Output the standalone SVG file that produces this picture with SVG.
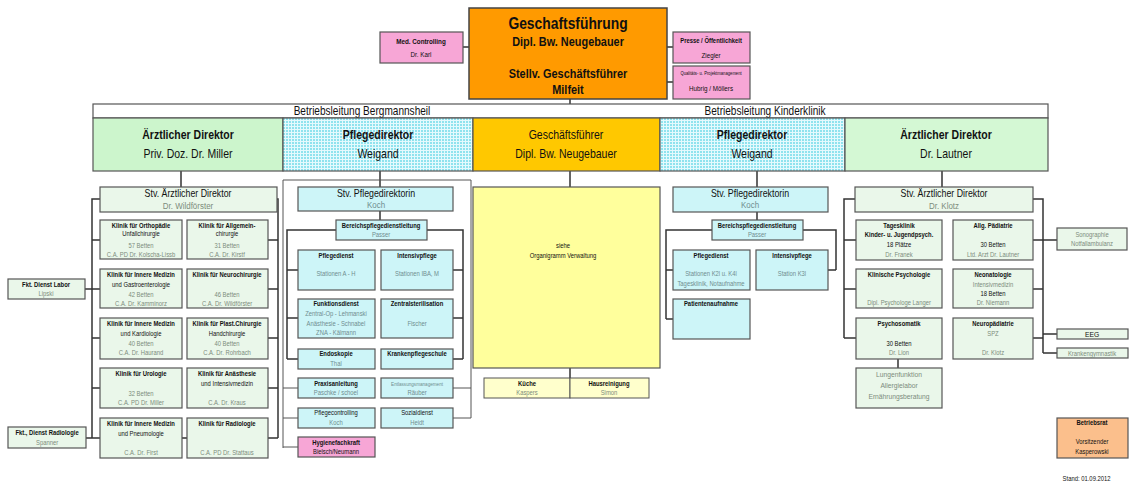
<svg xmlns="http://www.w3.org/2000/svg" width="1131" height="487" viewBox="0 0 1131 487">
<defs>
<pattern id="chk" width="3" height="3" patternUnits="userSpaceOnUse"><rect width="3" height="3" fill="#8fe3ee"/><path d="M0 0.5H3M0.5 0V3" stroke="#e4fafd" stroke-width="1"/></pattern>
<style>
text{font-family:"Liberation Sans Narrow","Liberation Sans",Arial,sans-serif;text-anchor:middle;fill:#111;transform-box:fill-box;transform-origin:center;transform:scaleX(.84)}
.b{font-weight:bold}
.s{font-size:7px}
.gy{fill:#7c8c7c}
.gc{fill:#6f8d8f}
.bx{stroke:#555;stroke-width:1.2}
.gr{fill:#eaf7ea}
.cy{fill:#cdf5f8}
.pk{fill:#f7a6d6}
.ln{stroke:#333;stroke-width:1.5;fill:none}
.th{stroke:#555;stroke-width:1;fill:none}
</style>
</defs>
<rect width="1131" height="487" fill="#fff"/>

<g id="connectors">
<path class="ln" d="M463 47H469M667 47H673M667 82H673M570 99V118"/>
<path class="ln" d="M181 171V187M380 171V187M570 171V187M757 171V187M942 171V187"/>
<path class="ln" d="M100 199H92V438M277 199H278V438M92 240H100M92 289H100M92 338H100M92 388H100M92 438H100M268 240H278M268 289H278M268 338H278M268 388H278M268 438H278M182 438H187M85 289H92M86 438H92"/>
<path class="th" d="M283 448V180H471V418"/>
<path class="ln" d="M380 211V220M336 230H287V359M427 230H463V359M287 270H298M287 318H298M287 359H298M453 270H463M453 318H463M453 359H463"/>
<path class="th" d="M283 388H298M283 418H298M283 447H298M453 388H471M453 418H471"/>
<path class="ln" d="M570 368V398"/>
<path class="ln" d="M757 212V220M712 230H666V319M803 230H836V270M666 270H673M666 319H673M828 270H836"/>
<path class="ln" d="M855 199H844V338M1033 199H1043V353M844 240H856M844 289H856M844 338H856M1033 240H1057M1033 289H1043M1033 338H1043M1043 334H1057M1043 353H1057M898 359V368"/>
</g>

<g id="geschaeftsfuehrung">
<rect x="469" y="8" width="198" height="91" fill="#ff9a00" stroke="#444" stroke-width="1.5"/>
<text x="568" y="29" class="b" font-size="16.5" fill="#2a1a00">Geschaftsführung</text>
<text x="568" y="46" class="b" font-size="13" fill="#2a1a00">Dipl. Bw. Neugebauer</text>
<text x="568" y="78" class="b" font-size="13" fill="#2a1a00">Stellv. Geschäftsführer</text>
<text x="568" y="94" class="b" font-size="13" fill="#2a1a00">Milfeit</text>
</g>
<g id="medcontrolling">
<rect x="380" y="32" width="83" height="31" class="pk bx"/>
<text x="421" y="44" class="b" font-size="7.5">Med. Controlling</text>
<text x="421" y="57" font-size="7.5" fill="#777">Dr. Karl</text>
</g>
<g id="presse">
<rect x="673" y="32" width="77" height="31" class="pk bx"/>
<text x="711" y="43" class="b" font-size="7">Presse / Öffentlichkeit</text>
<text x="711" y="58" font-size="7.5" fill="#777">Ziegler</text>
</g>
<g id="qualitaet">
<rect x="673" y="66" width="77" height="33" class="pk bx"/>
<text x="711" y="75" font-size="5">Qualitäts- u. Projektmanagement</text>
<text x="711" y="91" font-size="7.5" fill="#777">Hubrig / Möllers</text>
</g>

<g id="betriebsleitung">
<rect x="93" y="104" width="955" height="14" fill="#fff" stroke="#555" stroke-width="1.2"/>
<text x="362" y="115.5" font-size="12">Betriebsleitung Bergmannsheil</text>
<text x="765" y="115.5" font-size="12">Betriebsleitung Kinderklinik</text>
</g>
<g id="aerztl-bmh">
<rect x="93" y="118" width="190" height="53" fill="#ccf5cc" stroke="#555" stroke-width="1.2"/>
<text x="188" y="139" class="b" font-size="12.5">Ärztlicher Direktor</text>
<text x="188" y="158" font-size="12.5">Priv. Doz. Dr. Miller</text>
</g>
<g id="pflege-bmh">
<rect x="283" y="118" width="190" height="53" fill="url(#chk)" stroke="#555" stroke-width="1.2"/>
<text x="378" y="139" class="b" font-size="12.5">Pflegedirektor</text>
<text x="378" y="158" font-size="12.5">Weigand</text>
</g>
<g id="gf">
<rect x="473" y="118" width="187" height="53" fill="#ffc800" stroke="#555" stroke-width="1.2"/>
<text x="566" y="139" font-size="12.5">Geschäftsführer</text>
<text x="566" y="158" font-size="12.5">Dipl. Bw. Neugebauer</text>
</g>
<g id="pflege-kk">
<rect x="660" y="118" width="185" height="53" fill="url(#chk)" stroke="#555" stroke-width="1.2"/>
<text x="752" y="139" class="b" font-size="12.5">Pflegedirektor</text>
<text x="752" y="158" font-size="12.5">Weigand</text>
</g>
<g id="aerztl-kk">
<rect x="845" y="118" width="203" height="53" fill="#d4f8d4" stroke="#555" stroke-width="1.2"/>
<text x="946" y="139" class="b" font-size="12.5">Ärztlicher Direktor</text>
<text x="946" y="158" font-size="12.5">Dr. Lautner</text>
</g>

<g id="stv-aerztl-bmh">
<rect x="100" y="187" width="177" height="25" class="gr bx"/>
<text x="188" y="197.5" font-size="10.5">Stv. Ärztlicher Direktor</text>
<text x="188" y="209" font-size="9.5" class="gy">Dr. Wildförster</text>
</g>
<g id="k-ortho" class="s">
<rect x="100" y="220" width="82" height="39" class="gr bx"/>
<text x="141" y="228" class="b">Klinik für Orthopädie</text>
<text x="141" y="236">Unfallchirurgie</text>
<text x="141" y="248" class="gy">57 Betten</text>
<text x="141" y="257" class="gy">C.A. PD Dr. Kolscha-Lissb</text>
</g>
<g id="k-allg" class="s">
<rect x="187" y="220" width="81" height="39" class="gr bx"/>
<text x="227" y="228" class="b">Klinik für Allgemein-</text>
<text x="227" y="236">chirurgie</text>
<text x="227" y="248" class="gy">31 Betten</text>
<text x="227" y="257" class="gy">C.A. Dr. Kirstf</text>
</g>
<g id="k-gastro" class="s">
<rect x="100" y="269" width="82" height="39" class="gr bx"/>
<text x="141" y="277" class="b">Klinik für Innere Medizin</text>
<text x="141" y="287">und Gastroenterologie</text>
<text x="141" y="297" class="gy">42 Betten</text>
<text x="141" y="306" class="gy">C.A. Dr. Kamminorz</text>
</g>
<g id="k-neuro" class="s">
<rect x="187" y="269" width="81" height="39" class="gr bx"/>
<text x="227" y="277" class="b">Klinik für Neurochirurgie</text>
<text x="227" y="297" class="gy">46 Betten</text>
<text x="227" y="306" class="gy">C.A. Dr. Wildförster</text>
</g>
<g id="k-kardio" class="s">
<rect x="100" y="318" width="82" height="41" class="gr bx"/>
<text x="141" y="326" class="b">Klinik für Innere Medizin</text>
<text x="141" y="336">und Kardiologie</text>
<text x="141" y="346" class="gy">40 Betten</text>
<text x="141" y="355" class="gy">C.A. Dr. Haurand</text>
</g>
<g id="k-plast" class="s">
<rect x="187" y="318" width="81" height="41" class="gr bx"/>
<text x="227" y="326" class="b">Klinik für Plast.Chirurgie</text>
<text x="227" y="336">Handchirurgie</text>
<text x="227" y="346" class="gy">40 Betten</text>
<text x="227" y="355" class="gy">C.A. Dr. Rohrbach</text>
</g>
<g id="k-uro" class="s">
<rect x="100" y="368" width="82" height="40" class="gr bx"/>
<text x="141" y="376" class="b">Klinik für Urologie</text>
<text x="141" y="396" class="gy">32 Betten</text>
<text x="141" y="405" class="gy">C.A. PD Dr. Miller</text>
</g>
<g id="k-anaest" class="s">
<rect x="187" y="368" width="81" height="40" class="gr bx"/>
<text x="227" y="376" class="b">Klinik für Anästhesie</text>
<text x="227" y="386">und Intensivmedizin</text>
<text x="227" y="405" class="gy">C.A. Dr. Kraus</text>
</g>
<g id="k-pneumo" class="s">
<rect x="100" y="418" width="82" height="40" class="gr bx"/>
<text x="141" y="426" class="b">Klinik für Innere Medizin</text>
<text x="141" y="436">und Pneumologie</text>
<text x="141" y="455" class="gy">C.A. Dr. First</text>
</g>
<g id="k-radio" class="s">
<rect x="187" y="418" width="81" height="40" class="gr bx"/>
<text x="227" y="426" class="b">Klinik für Radiologie</text>
<text x="227" y="455" class="gy">C.A. PD Dr. Stattaus</text>
</g>
<g id="labor" class="s">
<rect x="8" y="279" width="77" height="20" class="gr bx"/>
<text x="46" y="287" class="b">Fkt. Dienst Labor</text>
<text x="46" y="296" class="gy">Lipski</text>
</g>
<g id="fkt-radio" class="s">
<rect x="8" y="427" width="78" height="21" class="gr bx"/>
<text x="47" y="435" class="b">Fkt., Dienst Radiologie</text>
<text x="47" y="445" class="gy">Spanner</text>
</g>

<g id="stv-pflege-bmh">
<rect x="298" y="187" width="155" height="24" class="cy bx"/>
<text x="376" y="197.5" font-size="10.5">Stv. Pflegedirektorin</text>
<text x="376" y="208.5" font-size="9.5" class="gc">Koch</text>
</g>
<g id="bpdl-bmh" class="s">
<rect x="336" y="220" width="91" height="20" class="cy bx"/>
<text x="381" y="228" class="b">Bereichspflegedienstleitung</text>
<text x="381" y="237" class="gc">Passer</text>
</g>
<g id="pd-bmh" class="s">
<rect x="298" y="250" width="77" height="40" class="cy bx"/>
<text x="336" y="258" class="b">Pflegedienst</text>
<text x="336" y="276" class="gc">Stationen A - H</text>
</g>
<g id="ip-bmh" class="s">
<rect x="381" y="250" width="72" height="40" class="cy bx"/>
<text x="417" y="258" class="b">Intensivpflege</text>
<text x="417" y="276" class="gc">Stationen IBA, M</text>
</g>
<g id="fd-bmh" class="s">
<rect x="298" y="299" width="77" height="39" class="cy bx"/>
<text x="336" y="306" class="b">Funktionsdienst</text>
<text x="336" y="316" class="gc">Zentral-Op - Lehmanski</text>
<text x="336" y="326" class="gc">Anästhesie - Schnabel</text>
<text x="336" y="335" class="gc">ZNA - Kälmann</text>
</g>
<g id="zs-bmh" class="s">
<rect x="381" y="299" width="72" height="39" class="cy bx"/>
<text x="417" y="306" class="b">Zentralsterilisation</text>
<text x="417" y="326" class="gc">Fischer</text>
</g>
<g id="endo" class="s">
<rect x="298" y="349" width="77" height="20" class="cy bx"/>
<text x="336" y="356" class="b">Endoskopie</text>
<text x="336" y="366" class="gc">Thal</text>
</g>
<g id="kps" class="s">
<rect x="381" y="349" width="72" height="20" class="cy bx"/>
<text x="417" y="356" class="b">Krankenpflegeschule</text>
</g>
<g id="praxis" class="s">
<rect x="298" y="378" width="77" height="20" class="cy bx"/>
<text x="336" y="386" class="b">Praxisanleitung</text>
<text x="336" y="395" class="gc">Paschke / schoel</text>
</g>
<g id="entlass" class="s">
<rect x="381" y="378" width="72" height="20" class="cy bx"/>
<text x="417" y="386" font-size="5.5" class="gc">Entlassungsmanagement</text>
<text x="417" y="395" class="gc">Räuber</text>
</g>
<g id="pcontrol" class="s">
<rect x="298" y="408" width="77" height="20" class="cy bx"/>
<text x="336" y="415">Pflegecontrolling</text>
<text x="336" y="425" class="gc">Koch</text>
</g>
<g id="sozial" class="s">
<rect x="381" y="408" width="72" height="20" class="cy bx"/>
<text x="417" y="415">Sozialdienst</text>
<text x="417" y="425" class="gc">Heidt</text>
</g>
<g id="hygiene" class="s">
<rect x="298" y="437" width="77" height="20" class="pk bx"/>
<text x="336" y="445" class="b">Hygienefachkraft</text>
<text x="336" y="454" fill="#8a5a7a">Bielsch/Neumann</text>
</g>

<g id="verwaltung" class="s">
<rect x="473" y="187" width="187" height="181" fill="#ffff9c" stroke="#555" stroke-width="1.2"/>
<text x="563" y="248">siehe</text>
<text x="563" y="258">Organigramm Verwaltung</text>
</g>
<g id="kueche" class="s">
<rect x="484" y="378" width="86" height="20" fill="#ffffcc" stroke="#555" stroke-width="1"/>
<text x="527" y="386" class="b">Küche</text>
<text x="527" y="395" class="gy">Kaspers</text>
</g>
<g id="hausreinigung" class="s">
<rect x="570" y="378" width="79" height="20" fill="#ffffcc" stroke="#555" stroke-width="1"/>
<text x="609" y="386" class="b">Hausreinigung</text>
<text x="609" y="395" class="gy">Simon</text>
</g>

<g id="stv-pflege-kk">
<rect x="673" y="187" width="155" height="25" class="cy bx"/>
<text x="750" y="197.5" font-size="10.5">Stv. Pflegedirektorin</text>
<text x="750" y="208.5" font-size="9.5" class="gc">Koch</text>
</g>
<g id="bpdl-kk" class="s">
<rect x="712" y="220" width="91" height="20" class="cy bx"/>
<text x="757" y="228" class="b">Bereichspflegedienstleitung</text>
<text x="757" y="237" class="gc">Passer</text>
</g>
<g id="pd-kk" class="s">
<rect x="673" y="250" width="77" height="40" class="cy bx"/>
<text x="711" y="258" class="b">Pflegedienst</text>
<text x="711" y="276" class="gc">Stationen K2l u. K4l</text>
<text x="711" y="286" class="gc">Tagesklinik, Notaufnahme</text>
</g>
<g id="ip-kk" class="s">
<rect x="756" y="250" width="72" height="40" class="cy bx"/>
<text x="792" y="258" class="b">Intensivpflege</text>
<text x="792" y="276" class="gc">Station K3l</text>
</g>
<g id="patauf" class="s">
<rect x="673" y="299" width="77" height="40" class="cy bx"/>
<text x="711" y="306" class="b">Patientenaufnahme</text>
</g>

<g id="stv-aerztl-kk">
<rect x="855" y="187" width="178" height="25" class="gr bx"/>
<text x="944" y="197.5" font-size="10.5">Stv. Ärztlicher Direktor</text>
<text x="944" y="209" font-size="9.5" class="gy">Dr. Klotz</text>
</g>
<g id="tagesklinik" class="s">
<rect x="856" y="220" width="86" height="40" class="gr bx"/>
<text x="899" y="228" class="b">Tagesklinik</text>
<text x="899" y="237" class="b">Kinder- u. Jugendpsych.</text>
<text x="899" y="247">18 Plätze</text>
<text x="899" y="257" class="gy">Dr. Franek</text>
</g>
<g id="allgpaed" class="s">
<rect x="953" y="220" width="80" height="40" class="gr bx"/>
<text x="993" y="228" class="b">Allg. Pädiatrie</text>
<text x="993" y="247">30 Betten</text>
<text x="993" y="257" class="gy">Ltd. Arzt Dr. Lautner</text>
</g>
<g id="klinpsych" class="s">
<rect x="856" y="269" width="86" height="39" class="gr bx"/>
<text x="899" y="277" class="b">Klinische Psychologie</text>
<text x="899" y="305" class="gy">Dipl. Psychologe Langer</text>
</g>
<g id="neonat" class="s">
<rect x="953" y="269" width="80" height="39" class="gr bx"/>
<text x="993" y="277" class="b">Neonatologie</text>
<text x="993" y="287" class="gy">Intensivmedizin</text>
<text x="993" y="296">18 Betten</text>
<text x="993" y="305" class="gy">Dr. Niemann</text>
</g>
<g id="psychosom" class="s">
<rect x="856" y="318" width="86" height="41" class="gr bx"/>
<text x="899" y="326" class="b">Psychosomatik</text>
<text x="899" y="346">30 Betten</text>
<text x="899" y="355" class="gy">Dr. Lion</text>
</g>
<g id="neuropaed" class="s">
<rect x="953" y="318" width="80" height="41" class="gr bx"/>
<text x="993" y="326" class="b">Neuropädiatrie</text>
<text x="993" y="336" class="gy">SPZ</text>
<text x="993" y="355" class="gy">Dr. Klotz</text>
</g>
<g id="lungen">
<rect x="856" y="368" width="86" height="40" class="gr bx"/>
<text x="899" y="377" font-size="8" class="gy">Lungenfunktion</text>
<text x="899" y="388" font-size="8" class="gy">Allergielabor</text>
<text x="899" y="399" font-size="8" class="gy">Ernährungsberatung</text>
</g>
<g id="sono" class="s">
<rect x="1057" y="228" width="70" height="22" class="gr bx"/>
<text x="1092" y="237" class="gy">Sonographie</text>
<text x="1092" y="246" class="gy">Notfallambulanz</text>
</g>
<g id="eeg">
<rect x="1057" y="329" width="71" height="10" class="gr bx"/>
<text x="1092" y="337" font-size="8">EEG</text>
</g>
<g id="kg" class="s">
<rect x="1057" y="348" width="71" height="10" class="gr bx"/>
<text x="1092" y="356" class="gy">Krankengymnastik</text>
</g>
<g id="betriebsrat" class="s">
<rect x="1057" y="418" width="71" height="40" fill="#fbbf8c" stroke="#555" stroke-width="1.2"/>
<text x="1092" y="425" class="b">Betriebsrat</text>
<text x="1092" y="444" fill="#555">Vorsitzender</text>
<text x="1092" y="454" fill="#555">Kasperowski</text>
</g>
<text x="1058" y="481" font-size="7" style="text-anchor:start">Stand: 01.09.2012</text>
</svg>
